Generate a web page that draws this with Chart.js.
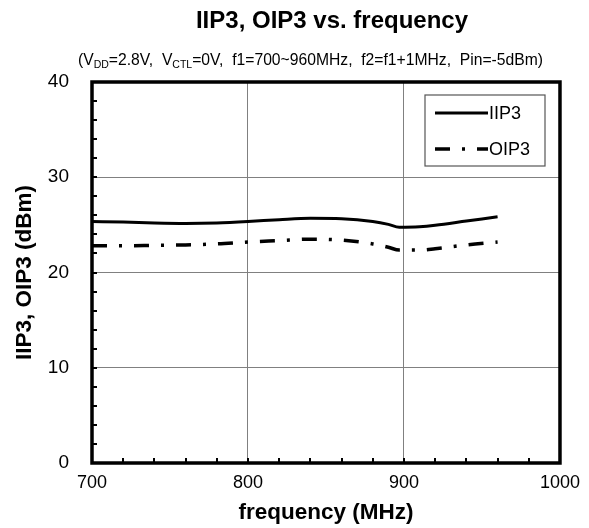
<!DOCTYPE html>
<html>
<head>
<meta charset="utf-8">
<script src="https://cdn.jsdelivr.net/npm/chart.js@4/dist/chart.umd.min.js"></script>
<style>
html,body{margin:0;padding:0;background:#fff;}
#wrap{width:589px;height:528px;}
</style>
</head>
<body>
<div id="wrap"><canvas id="c" width="589" height="528"></canvas></div>
<script>
const frequency = [700, 720, 740, 760, 780, 800, 820, 840, 860, 880, 890, 897, 910, 920, 940, 960];
const iip3 = [25.35, 25.3, 25.2, 25.15, 25.2, 25.35, 25.55, 25.7, 25.65, 25.35, 25.05, 24.75, 24.8, 24.95, 25.4, 25.85];
const oip3 = [22.8, 22.8, 22.85, 22.9, 23.0, 23.2, 23.35, 23.5, 23.4, 23.0, 22.65, 22.35, 22.35, 22.5, 22.9, 23.2];
const xTicks = [700, 800, 900, 1000];
const yTicks = [0, 10, 20, 30, 40];
const seriesNames = ['IIP3', 'OIP3'];
const titleText = 'IIP3, OIP3 vs. frequency';
const subtitleParts = [['(V', false], ['DD', true], ['=2.8V,  V', false], ['CTL', true], ['=0V,  f1=700~960MHz,  f2=f1+1MHz,  Pin=-5dBm)', false]];
const xTitle = 'frequency (MHz)';
const yTitle = 'IIP3, OIP3 (dBm)';

const FONT = 'Arial, "Liberation Sans", sans-serif';
const dashOIP3 = [15, 12, 3, 12];

const toPts = (ys) => frequency.map((f, i) => ({x: f, y: ys[i]}));

const decor = {
  id: 'decor',
  afterDraw(chart) {
    const ctx = chart.ctx;
    const a = chart.chartArea;
    const xs = chart.scales.x, ys = chart.scales.y;
    ctx.save();
    // minor ticks inside
    ctx.strokeStyle = '#000';
    ctx.lineWidth = 2;
    for (let v = 700; v <= 1000; v += 20) {
      const px = Math.round(xs.getPixelForValue(v));
      ctx.beginPath(); ctx.moveTo(px, a.bottom); ctx.lineTo(px, a.bottom - 5); ctx.stroke();
    }
    for (let v = 0; v <= 40; v += 2) {
      const py = Math.round(ys.getPixelForValue(v));
      ctx.beginPath(); ctx.moveTo(a.left, py); ctx.lineTo(a.left + 5, py); ctx.stroke();
    }
    // frame
    ctx.lineWidth = 3.5;
    ctx.strokeRect(a.left, a.top, a.right - a.left, a.bottom - a.top);
    // title
    ctx.fillStyle = '#000';
    ctx.textAlign = 'center';
    ctx.textBaseline = 'middle';
    ctx.font = 'bold 24px ' + FONT;
    ctx.fillText(titleText, 332, 21);
    // subtitle with subscripts
    const nSize = 15.7, sSize = 10.5;
    let total = 0;
    subtitleParts.forEach(([t, sub]) => {
      ctx.font = (sub ? sSize : nSize) + 'px ' + FONT;
      total += ctx.measureText(t).width;
    });
    let x = 310.5 - total / 2;
    ctx.textAlign = 'left';
    ctx.textBaseline = 'alphabetic';
    subtitleParts.forEach(([t, sub]) => {
      ctx.font = (sub ? sSize : nSize) + 'px ' + FONT;
      ctx.fillText(t, x, sub ? 68 : 65);
      x += ctx.measureText(t).width;
    });
    // legend
    const lx = 425, ly = 95, lw = 120, lh = 71;
    ctx.lineWidth = 1.2;
    ctx.strokeStyle = '#555';
    ctx.strokeRect(lx, ly, lw, lh);
    const rows = [113, 149];
    chart.data.datasets.forEach((ds, i) => {
      ctx.strokeStyle = ds.borderColor;
      ctx.lineWidth = ds.borderWidth;
      ctx.setLineDash(ds.borderDash || []);
      ctx.beginPath(); ctx.moveTo(435, rows[i]); ctx.lineTo(488, rows[i]); ctx.stroke();
      ctx.setLineDash([]);
      ctx.fillStyle = '#000';
      ctx.font = '18px ' + FONT;
      ctx.textAlign = 'left';
      ctx.textBaseline = 'middle';
      ctx.fillText(ds.label, 489, rows[i] + 1);
    });
    ctx.restore();
  }
};

new Chart(document.getElementById('c'), {
  type: 'line',
  data: {
    datasets: [
      {label: seriesNames[0], data: toPts(iip3), borderColor: '#000', borderWidth: 3, pointRadius: 0, cubicInterpolationMode: 'monotone', fill: false},
      {label: seriesNames[1], data: toPts(oip3), borderColor: '#000', borderWidth: 3.5, borderDash: dashOIP3, pointRadius: 0, cubicInterpolationMode: 'monotone', fill: false}
    ]
  },
  options: {
    responsive: false,
    animation: false,
    devicePixelRatio: 1,
    layout: {padding: {top: 82, right: 29, bottom: 0, left: 0}},
    plugins: {legend: {display: false}, title: {display: false}, tooltip: {enabled: false}},
    scales: {
      x: {
        type: 'linear', min: 700, max: 1000,
        afterBuildTicks: (s) => { s.ticks = xTicks.map(v => ({value: v})); },
        afterFit: (s) => { s.height = 65; },
        grid: {color: '#808080', lineWidth: 1, drawTicks: false},
        border: {display: false},
        ticks: {font: {size: 18, family: FONT}, color: '#000', padding: 9, maxRotation: 0, callback: (v) => String(v)},
        title: {display: true, text: xTitle, font: {size: 22.5, weight: 'bold', family: FONT}, color: '#000', padding: {top: 0, bottom: 2}}
      },
      y: {
        min: 0, max: 40,
        afterBuildTicks: (s) => { s.ticks = yTicks.map(v => ({value: v})); },
        afterFit: (s) => { s.width = 92; },
        grid: {color: '#808080', lineWidth: 1, drawTicks: false},
        border: {display: false},
        ticks: {font: {size: 19, family: FONT}, color: '#000', padding: 23, callback: (v) => String(v)},
        title: {display: true, text: yTitle, font: {size: 22.5, weight: 'bold', family: FONT}, color: '#000', padding: {top: 11, bottom: 0}}
      }
    }
  },
  plugins: [decor]
});
</script>
</body>
</html>
